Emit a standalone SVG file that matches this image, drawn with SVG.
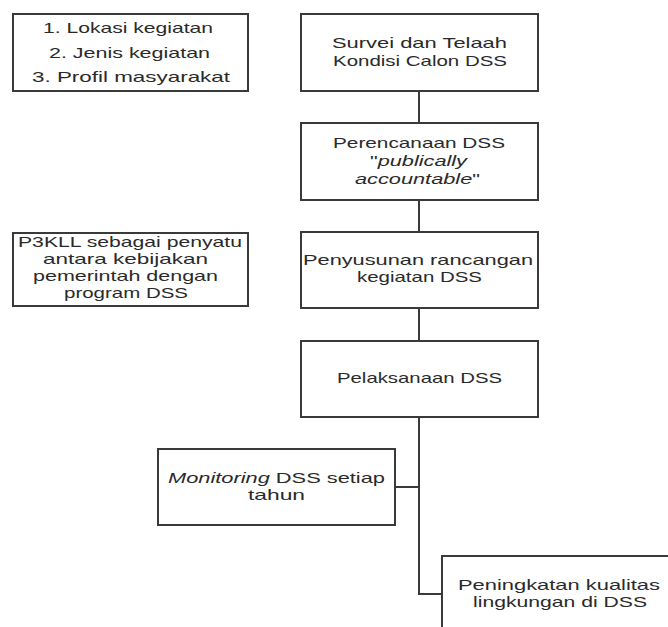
<svg xmlns="http://www.w3.org/2000/svg" width="668" height="627" viewBox="0 0 668 627">
<style>
.box{fill:#fff;stroke:#3a3a3a;stroke-width:2}
.t{font-family:"Liberation Sans",Arial,sans-serif;font-size:14.5px;fill:#2a2a2a;text-anchor:middle}
.c{stroke:#3a3a3a;stroke-width:2;fill:none}
</style>
<rect width="668" height="627" fill="#fff"/>
<g id="connectors">
<line class="c" x1="419" y1="91" x2="419" y2="123"/>
<line class="c" x1="419" y1="200" x2="419" y2="232"/>
<line class="c" x1="419" y1="308" x2="419" y2="341"/>
<polyline class="c" points="419,417 419,594 442,594"/>
<line class="c" x1="395" y1="487" x2="419" y2="487"/>
</g>
<g id="n_inputs">
<rect class="box" x="13" y="14" width="235" height="77"/>
<text class="t" x="128" y="33" textLength="170" lengthAdjust="spacingAndGlyphs">1. Lokasi kegiatan</text>
<text class="t" x="129.5" y="58" textLength="161" lengthAdjust="spacingAndGlyphs">2. Jenis kegiatan</text>
<text class="t" x="131" y="82" textLength="198" lengthAdjust="spacingAndGlyphs">3. Profil masyarakat</text>
</g>
<g id="n_survei">
<rect class="box" x="301" y="14" width="237" height="77"/>
<text class="t" x="419.5" y="48" textLength="175" lengthAdjust="spacingAndGlyphs">Survei dan Telaah</text>
<text class="t" x="420" y="66" textLength="174" lengthAdjust="spacingAndGlyphs">Kondisi Calon DSS</text>
</g>
<g id="n_perencanaan">
<rect class="box" x="301" y="123" width="237" height="77"/>
<text class="t" x="419" y="148" textLength="172" lengthAdjust="spacingAndGlyphs">Perencanaan DSS</text>
<text class="t" x="418.5" y="166" textLength="97" lengthAdjust="spacingAndGlyphs">"<tspan font-style="italic">publically</tspan></text>
<text class="t" x="417.5" y="184" textLength="125" lengthAdjust="spacingAndGlyphs"><tspan font-style="italic">accountable</tspan>"</text>
</g>
<g id="n_penyusunan">
<rect class="box" x="301" y="232" width="237" height="76"/>
<text class="t" x="418" y="265" textLength="230" lengthAdjust="spacingAndGlyphs">Penyusunan rancangan</text>
<text class="t" x="419.5" y="282" textLength="125" lengthAdjust="spacingAndGlyphs">kegiatan DSS</text>
</g>
<g id="n_pelaksanaan">
<rect class="box" x="301" y="341" width="237" height="76"/>
<text class="t" x="419.5" y="383" textLength="165" lengthAdjust="spacingAndGlyphs">Pelaksanaan DSS</text>
</g>
<g id="n_p3kll">
<rect class="box" x="13" y="233" width="235" height="73"/>
<text class="t" x="130" y="247" textLength="224" lengthAdjust="spacingAndGlyphs">P3KLL sebagai penyatu</text>
<text class="t" x="125.5" y="264" textLength="165" lengthAdjust="spacingAndGlyphs">antara kebijakan</text>
<text class="t" x="125.5" y="281" textLength="185" lengthAdjust="spacingAndGlyphs">pemerintah dengan</text>
<text class="t" x="126" y="298" textLength="124" lengthAdjust="spacingAndGlyphs">program DSS</text>
</g>
<g id="n_monitoring">
<rect class="box" x="158" y="449" width="237" height="76"/>
<text class="t" x="276.5" y="483" textLength="217" lengthAdjust="spacingAndGlyphs"><tspan font-style="italic">Monitoring</tspan> DSS setiap</text>
<text class="t" x="276.5" y="500" textLength="57" lengthAdjust="spacingAndGlyphs">tahun</text>
</g>
<g id="n_peningkatan">
<rect class="box" x="442" y="556" width="240" height="80"/>
<text class="t" x="559" y="590" textLength="202" lengthAdjust="spacingAndGlyphs">Peningkatan kualitas</text>
<text class="t" x="560" y="607" textLength="174" lengthAdjust="spacingAndGlyphs">lingkungan di DSS</text>
</g>
</svg>
